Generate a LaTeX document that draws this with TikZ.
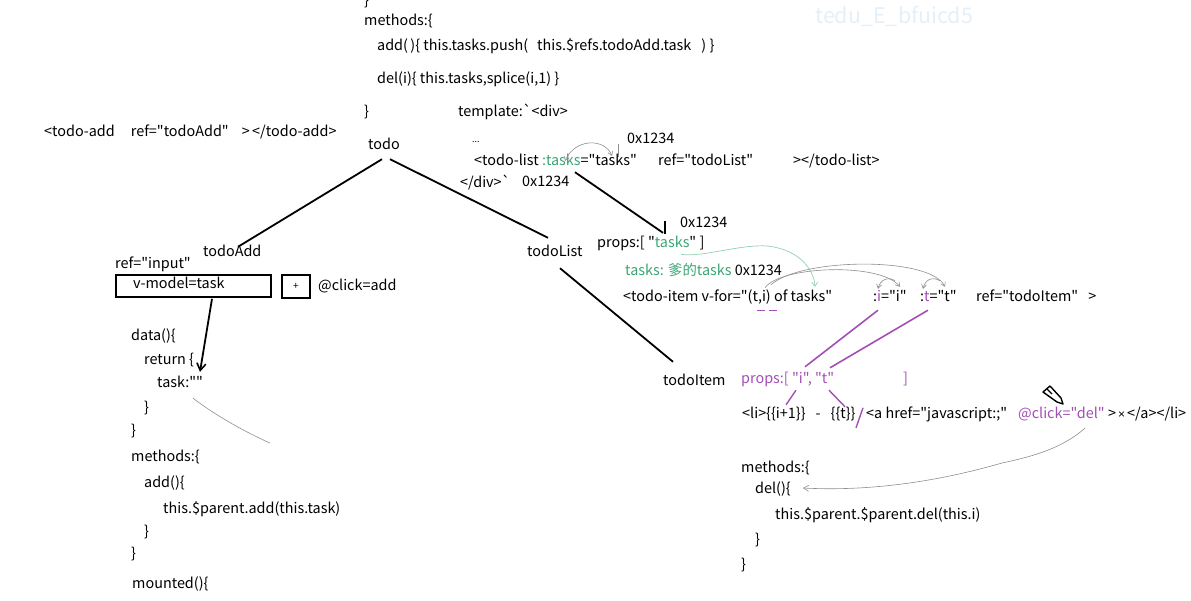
\documentclass[tikz,border=0pt]{standalone}
\usepackage{fontspec}
\newfontfamily\codefont{Noto Sans CJK SC}
\newfontfamily\timesfont{Liberation Sans}
\usetikzlibrary{arrows.meta}
\definecolor{vgreen}{HTML}{3AA674}
\definecolor{vpurple}{HTML}{A24FB4}
\definecolor{wmark}{HTML}{E4EFF7}
\definecolor{pencil}{HTML}{8E8E8E}
\definecolor{pengreen}{HTML}{8FD3B0}
\newcommand{\bq}{\symbol{96}}
\newcommand{\gap}[1]{\hspace*{#1pt}}
\begin{document}
\begin{tikzpicture}[x=1pt,y=-1pt,
  code/.style={anchor=west,inner sep=0pt,text height=10.5pt,text depth=3.5pt,
    font=\codefont\fontsize{14.4}{16}\selectfont},
  branch/.style={line width=1.8pt,black},
  sketch/.style={draw=pencil,line width=0.6pt},
  box/.style={draw,line width=1.8pt,anchor=north west,inner sep=0pt},
  hook/.style={sketch,-{Straight Barb[length=4pt,width=5pt]}}]
\useasboundingbox (0,0) rectangle (1191,600);

% watermark
\node[code,text=wmark,font=\codefont\fontsize{21.5}{24}\selectfont] (wm) at (815,20) {tedu\_E\_bfuicd5};

% parent component: methods and template
\node[code] (b0) at (364,2) {\}};
\node[code] (pm) at (364,22) {methods:\{};
\node[code] (padd) at (377,47) {add(\,)\{ this.tasks.push(\gap{9}this.\$refs.todoAdd.task\gap{10}) \}};
\node[code] (pdel) at (377,80) {del(i)\{ this.tasks,splice(i,1) \}};
\node[code] (pend) at (364,113) {\}};
\node[code] (tpl) at (458,113) {template:\bq<div>};
\node[code,font=\codefont\fontsize{9}{10}\selectfont] (dots) at (472,139) {...};
\node[code] (hexa) at (627,140) {0x1234};
\node[code] (tl1) at (474,162) {<todo-list \textcolor{vgreen}{:tasks}="tasks"};
\node[code] (tl2) at (658,162) {ref="todoList"};
\node[code] (tl3) at (793,162) {></todo-list>};
\node[code] (divend) at (460,184) {</div>\bq};
\node[code] (hexb) at (522,183) {0x1234};
\node[code] (addtag) at (44,133) {<todo-add\gap{16}ref="todoAdd"\gap{13}>\,</todo-add>};
\node[code] (todo) at (368,146) {todo};

% component names
\node[code] (todoAdd) at (203,253) {todoAdd};
\node[code] (todoList) at (527,253) {todoList};
\node[code] (todoItem) at (663,382) {todoItem};

% todoList part
\node[code] (hexc) at (680,224) {0x1234};
\node[code] (props1) at (597,244) {props:[ "\textcolor{vgreen}{tasks}" ]};
\node[code] (tasksdad) at (625,272) {\textcolor{vgreen}{tasks: 爹的tasks} 0x1234};
\node[code] (ti1) at (623,298) {<todo-item v-for="(t,i) of tasks"};
\node[code] (ti2) at (873,298) {:\textcolor{vpurple}{i}="i"};
\node[code] (ti3) at (920,298) {:\textcolor{vpurple}{t}="t"};
\node[code] (ti4) at (976,298) {ref="todoItem"\gap{10}>};

% todoItem part
\node[code,text=vpurple] (props2) at (741,380) {props:[ "i", "t"};
\node[code,text=vpurple] (props2e) at (903,380) {]};
\node[code] (li1) at (742,415) {<li>\{\{i+1\}\}\gap{10}-\gap{10}\{\{t\}\}};
\node[code] (li2) at (866,415) {<a href="javascript:;"};
\node[code,text=vpurple] (li3) at (1018,415) {@click="del"};
\node[code] (li4) at (1108,415) {>{\timesfont\fontsize{12}{14}\selectfont\,×\,}</a></li>};
\node[code] (im) at (741,469) {methods:\{};
\node[code] (idel) at (755,490) {del()\{};
\node[code] (ibody) at (775,516) {this.\$parent.\$parent.del(this.i)};
\node[code] (ib1) at (755,541) {\}};
\node[code] (ib2) at (741,566) {\}};

% todoAdd part
\node[code] (refin) at (115,265) {ref="input"};
\node[box,minimum width=155pt,minimum height=22pt] (inbox) at (115,274) {};
\node[code] (vmodel) at (133,285) {v-model=task};
\node[box,minimum width=28pt,minimum height=23pt,font=\codefont\fontsize{10}{12}\selectfont] (plus) at (281,274) {+};
\node[code] (click) at (318,287) {@click=add};
\node[code] (data) at (131,337) {data()\{};
\node[code] (ret) at (144,361) {return \{};
\node[code] (taskq) at (157,384) {task:""};
\node[code] (r1) at (144,409) {\}};
\node[code] (r2) at (131,432) {\}};
\node[code] (am) at (131,458) {methods:\{};
\node[code] (aadd) at (144,484) {add()\{};
\node[code] (abody) at (163,510) {this.\$parent.add(this.task)};
\node[code] (a1) at (144,533) {\}};
\node[code] (a2) at (131,555) {\}};
\node[code] (mnt) at (132,585) {mounted()\{};

% tree branches
\draw[branch] ([shift={(14,6)}]todo.south west) -- ([shift={(35,1)}]todoAdd.north west);
\draw[branch] ([shift={(22,6)}]todo.south west) -- ([shift={(21,-8)}]todoList.north west);
\draw[branch] ([shift={(33,8)}]todoList.south west) -- ([shift={(10,-13)}]todoItem.north west);
\draw[branch] ([shift={(101,3)}]tl1.south west) -- ([shift={(66,-4)}]props1.north west);
\draw[branch] ([shift={(68,-16)}]props1.north west) -- ([shift={(68,-3)}]props1.north west);

% v-model binding
\draw[branch,-{Straight Barb[length=7pt,width=9pt,line width=1.6pt]}]
  ([shift={(97,1)}]inbox.south west) -- ([shift={(43,-5)}]taskq.north west);
\draw[sketch] ([shift={(36,7)}]taskq.south west) .. controls (215,415) and (245,432) .. (270,443);

% pencil notes around the tasks prop
\draw[sketch,{Straight Barb[length=4pt,width=5pt]}-{Straight Barb[length=4pt,width=5pt]}]
  ([shift={(91,-1)}]tl1.west) .. controls (575,138) and (605,138) .. ([shift={(138,-6)}]tl1.west);
\draw[sketch] ([shift={(144,-18)}]tl1.west) -- ([shift={(144,-5)}]tl1.west);
\draw[draw=pengreen,line width=0.7pt,-{Straight Barb[length=4pt,width=6pt]}]
  ([shift={(84,3)}]props1.south west) .. controls (700,258) and (740,244) .. (768,246)
  .. controls (800,250) and (814,270) .. ([shift={(192,-4)}]ti1.north west);

% (t,i) passed down as :i and :t
\draw[hook] ([shift={(142,-3)}]ti1.north west) .. controls (780,266) and (880,262) .. ([shift={(27,-4)}]ti2.north west);
\draw[hook] ([shift={(148,-6)}]ti1.north west) .. controls (800,258) and (930,256) .. ([shift={(25,-4)}]ti3.north west);
\draw[hook] ([shift={(22,-10)}]ti2.north west) .. controls (888,276) and (880,280) .. ([shift={(5,-2)}]ti2.north west);
\draw[hook] ([shift={(20,-10)}]ti3.north west) .. controls (932,276) and (925,280) .. ([shift={(3,-2)}]ti3.north west);
\draw[vpurple,line width=1.4pt] ([shift={(134,5)}]ti1.south west) -- +(8,0);
\draw[vpurple,line width=1.4pt] ([shift={(146,5)}]ti1.south west) -- +(8,0);

% purple wiring into todoItem props
\draw[vpurple,line width=1.6pt] ([shift={(5,5)}]ti2.south west) -- ([shift={(64,-6)}]props2.north west);
\draw[vpurple,line width=1.6pt] ([shift={(8,5)}]ti3.south west) -- ([shift={(89,-5)}]props2.north west);
\draw[vpurple,line width=1.4pt] ([shift={(55,3)}]props2.south west) -- ([shift={(44,-3)}]li1.north west);
\draw[vpurple,line width=1.4pt] ([shift={(88,3)}]props2.south west) -- ([shift={(103,-1)}]li1.north west);
\draw[vpurple,line width=1.4pt] ([shift={(114,20)}]li1.north west) -- ([shift={(121,0)}]li1.north west);

% pen cursor
\draw[line width=1.4pt,line join=round] (1043,392) -- (1050,386) -- (1061,398) -- (1063,404) -- (1057,402) -- cycle;
\draw[line width=1.2pt] (1047,389) -- (1052,394);

% @click="del" leads to del()
\draw[sketch,-{Straight Barb[length=5pt,width=6pt]}]
  ([shift={(67,6)}]li3.south west) .. controls (1062,448) and (1035,456) .. (1002,463)
  .. controls (950,478) and (880,492) .. ([shift={(48,-2)}]idel.west);
\end{tikzpicture}
\end{document}
